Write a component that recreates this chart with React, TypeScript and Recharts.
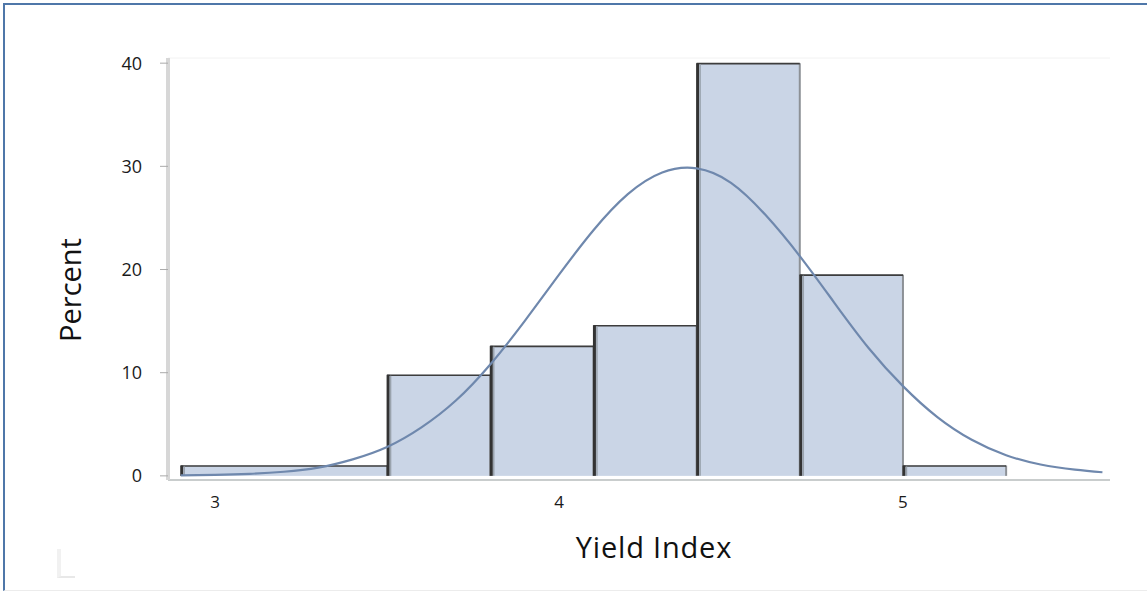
import React from "react";
import { ComposedChart, Line, XAxis, YAxis, ReferenceArea, ReferenceLine } from "recharts";

// histogram bins (yield index ranges) and percent per bin
const binStart = [2.9, 3.5, 3.8, 4.1, 4.4, 4.7, 5.0];
const binEnd = [3.5, 3.8, 4.1, 4.4, 4.7, 5.0, 5.3];
const binPercent = [1.0, 9.8, 12.6, 14.6, 40, 19.5, 1.0];

// fitted density curve, in percent
const curveX = [2.9, 3.0, 3.1, 3.2, 3.3, 3.4, 3.5, 3.6, 3.7, 3.8, 3.9, 4.0, 4.1, 4.2, 4.3, 4.4, 4.5, 4.6, 4.7, 4.8, 4.9, 5.0, 5.1, 5.2, 5.3, 5.4, 5.5, 5.58];
const curveY = [0.05, 0.1, 0.2, 0.4, 0.8, 1.6, 2.8, 4.7, 7.3, 10.8, 15.0, 19.5, 23.8, 27.3, 29.4, 29.8, 28.4, 25.3, 21.3, 16.8, 12.4, 8.7, 5.7, 3.5, 2.0, 1.1, 0.6, 0.35];

const xTicks = [3, 4, 5];
const yTicks = [0, 10, 20, 30, 40];

const curveData = curveX.map((x, i) => ({ x, y: curveY[i] }));

const font = "'Open Sans', 'Noto Sans', sans-serif";

const BinShape = (props: any) => {
    const { x, y, width, height } = props;
    return (
        <g>
            <rect x={x} y={y} width={width} height={height} fill="#cad5e6" />
            <line x1={x + width} y1={y} x2={x + width} y2={y + height} stroke="#8d9196" strokeWidth={2} />
            <line x1={x} y1={y + 0.5} x2={x + width} y2={y + 0.5} stroke="#3d3d3d" strokeWidth={1.6} />
            <line x1={x + 1} y1={y} x2={x + 1} y2={y + height} stroke="#333" strokeWidth={3} />
            <line x1={x + 3.5} y1={y + 1} x2={x + 3.5} y2={y + height} stroke="#9aa3ad" strokeWidth={1.5} />
        </g>
    );
};

export default function App() {
    return (
        <div style={{ position: "absolute", left: 0, top: 0, width: 1147, height: 592, background: "#fff", fontFamily: font }}>
            {/* frame */}
            <div style={{ position: "absolute", left: 3, top: 3, right: 0, bottom: 1, borderTop: "2px solid #4f77a9", borderLeft: "2px solid #4f77a9", borderBottom: "1px solid #ececec" }} />
            <div style={{ position: "absolute", left: 57, top: 549, width: 14, height: 27, borderLeft: "4px solid #f1f1f1", borderBottom: "2px solid #e8e8e8" }} />

            <ComposedChart
                width={1147}
                height={592}
                data={curveData}
                margin={{ top: 58, right: 37, left: 108, bottom: 82 }}
                style={{ position: "absolute", left: 0, top: 0 }}
            >
                <XAxis
                    dataKey="x"
                    type="number"
                    domain={[2.863, 5.602]}
                    allowDataOverflow
                    ticks={xTicks}
                    height={30}
                    tickLine={false}
                    tickMargin={10}
                    axisLine={{ stroke: "#c9cdcd", strokeWidth: 2 }}
                    tick={{ fill: "#1a1a1a", fontSize: 17, fontFamily: font }}
                />
                <YAxis
                    type="number"
                    domain={[-0.4, 40.5]}
                    allowDataOverflow
                    ticks={yTicks}
                    width={60}
                    tickSize={8}
                    tickMargin={18}
                    axisLine={{ stroke: "#d7d7d7", strokeWidth: 4 }}
                    tickLine={{ stroke: "#aaa" }}
                    tick={{ fill: "#1a1a1a", fontSize: 18, fontFamily: font }}
                />
                <ReferenceLine y={40.5} stroke="#f2f2f2" ifOverflow="visible" />
                {binStart.map((s, i) => (
                    <ReferenceArea
                        key={`bin-${i}`}
                        x1={s}
                        x2={binEnd[i]}
                        y1={0}
                        y2={binPercent[i]}
                        ifOverflow="visible"
                        shape={<BinShape />}
                    />
                ))}
                <Line
                    dataKey="y"
                    type="natural"
                    stroke="#6f88ad"
                    strokeWidth={2.2}
                    dot={false}
                    activeDot={false}
                    isAnimationActive={false}
                />
            </ComposedChart>

            <div style={{ position: "absolute", left: 69, top: 290, transform: "translate(-50%, -50%) rotate(-90deg)", fontSize: 29, color: "#111", whiteSpace: "nowrap" }}>
                Percent
            </div>
            <div style={{ position: "absolute", left: 654, top: 546, transform: "translate(-50%, -50%)", fontSize: 29, letterSpacing: 0.8, color: "#111", whiteSpace: "nowrap" }}>
                Yield Index
            </div>
        </div>
    );
}
